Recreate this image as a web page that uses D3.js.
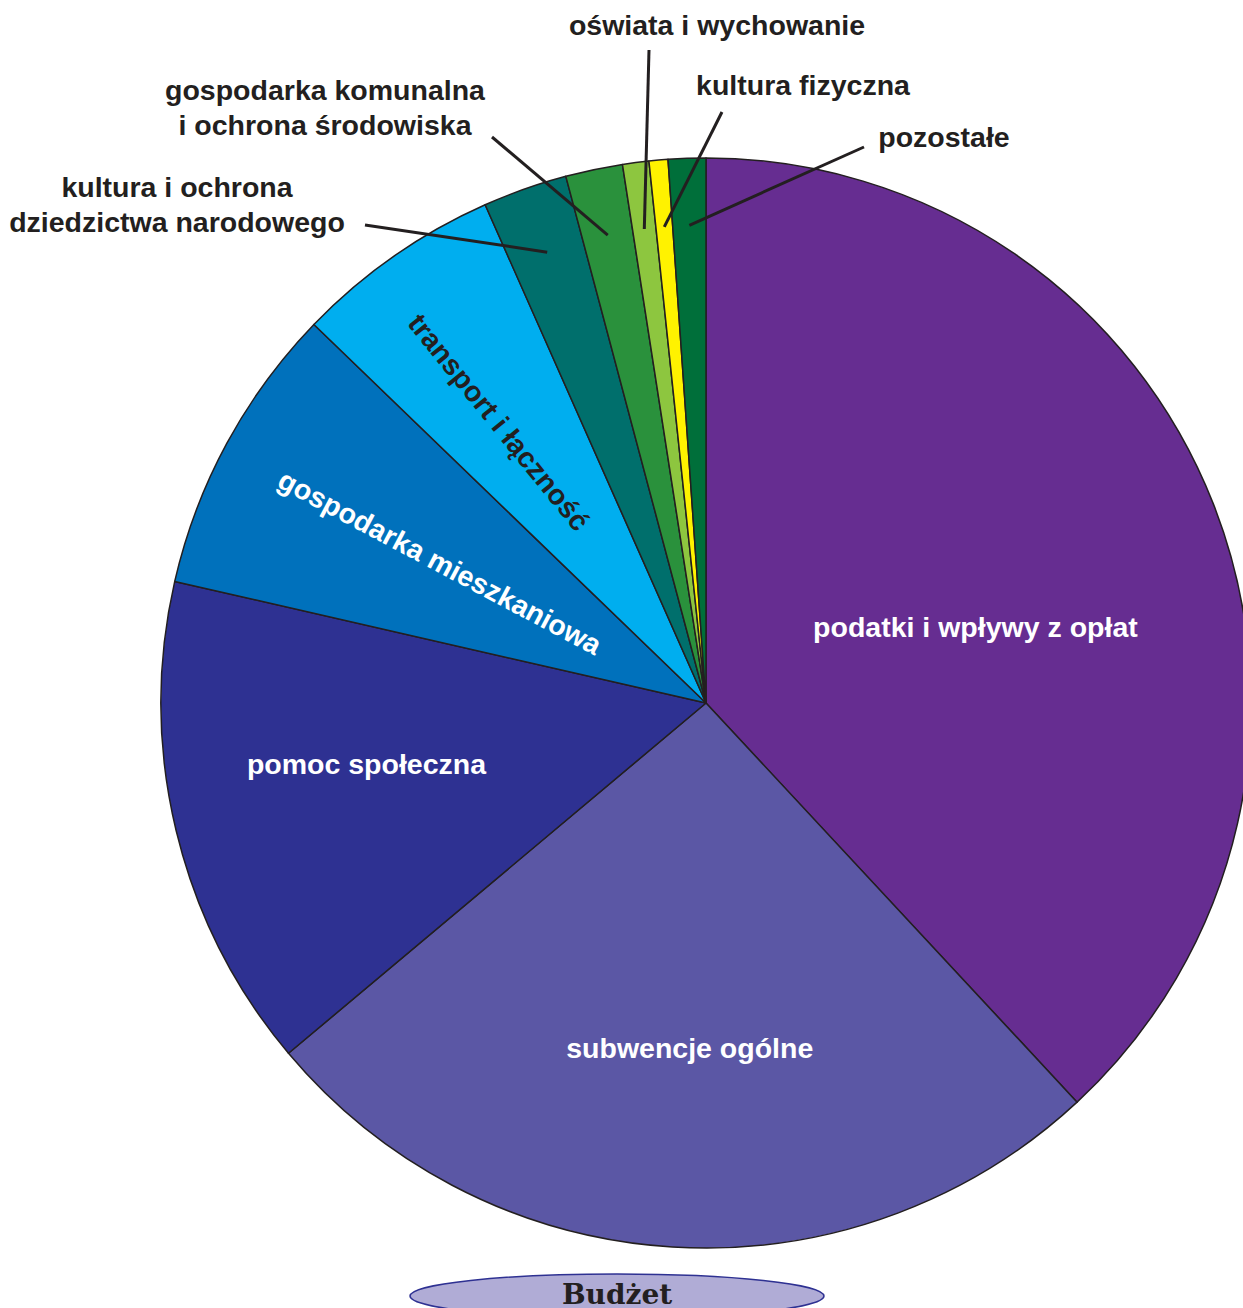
<!DOCTYPE html>
<html>
<head>
<meta charset="utf-8">
<script src="https://cdn.jsdelivr.net/npm/d3@7"></script>
<style>
  body { margin: 0; background: #fff; overflow: hidden; }
  svg { display: block; }
  text { font-family: "Liberation Sans", Arial, sans-serif; font-weight: bold; }
</style>
</head>
<body>
<svg id="canvas" width="1243" height="1308"></svg>
<script>
// budget shares (percent), clockwise from 12 o'clock
let categories = [
  "podatki i wpływy z opłat",
  "subwencje ogólne",
  "pomoc społeczna",
  "gospodarka mieszkaniowa",
  "transport i łączność",
  "kultura i ochrona dziedzictwa narodowego",
  "gospodarka komunalna i ochrona środowiska",
  "oświata i wychowanie",
  "kultura fizyczna",
  "pozostałe"
]
let shares = [38.08, 25.81, 14.69, 8.64, 6.14, 2.5, 1.69, 0.78, 0.56, 1.11]
let title = "Budżet"

let colors = ["#662d91", "#5b57a5", "#2e3192", "#0071bc", "#00aeef",
              "#006f6c", "#2a913c", "#8dc63f", "#fff200", "#006f3a"]

// inside labels: angle (deg), radius, rotation, fill
let insideLabels = {
  0: {ang: 74.2, r: 280, rot: 0, fill: "#fff"},
  1: {ang: 182.7, r: 345, rot: 0, fill: "#fff"},
  2: {ang: 259.8, r: 345, rot: 0, fill: "#fff"},
  3: {ang: 297.9, r: 301, rot: 28, fill: "#fff"},
  4: {ang: 323.6, r: 349, rot: 51, fill: "#231f20"}
}
// outside labels: text lines, text center x, first baseline, leader end
let outsideLabels = {
  5: {lines: ["kultura i ochrona", "dziedzictwa narodowego"], x: 177, y: 197, lx: 365, ly: 225},
  6: {lines: ["gospodarka komunalna", "i ochrona środowiska"], x: 325, y: 100, lx: 492, ly: 137},
  7: {lines: ["oświata i wychowanie"], x: 717, y: 35, lx: 649, ly: 50},
  8: {lines: ["kultura fizyczna"], x: 803, y: 95, lx: 722, ly: 112},
  9: {lines: ["pozostałe"], x: 944, y: 147, lx: 864, ly: 147}
}

let cx = 706, cy = 703, radius = 545
let fontSize = 28.5
let svg = d3.select('#canvas')
let g = svg.append('g').attr('transform', `translate(${cx},${cy})`)

let pie = d3.pie().sort(null).value(d => d)
let arcs = pie(shares)
let arc = d3.arc().innerRadius(0).outerRadius(radius)

g.selectAll('path')
  .data(arcs)
  .enter()
  .append('path')
  .attr('d', arc)
  .attr('fill', (d, i) => colors[i])
  .attr('stroke', '#231f20')
  .attr('stroke-width', 1.5)
  .attr('stroke-linejoin', 'round')

let toRad = a => a * Math.PI / 180

// labels inside slices
arcs.forEach((d, i) => {
  let lab = insideLabels[i]
  if (!lab) return
  let x = lab.r * Math.sin(toRad(lab.ang))
  let y = -lab.r * Math.cos(toRad(lab.ang))
  g.append('text')
    .attr('transform', `translate(${x},${y}) rotate(${lab.rot})`)
    .attr('text-anchor', 'middle')
    .attr('dy', '0.35em')
    .attr('font-size', fontSize)
    .attr('fill', lab.fill)
    .text(categories[i])
})

// leader lines + outside labels
arcs.forEach((d, i) => {
  let lab = outsideLabels[i]
  if (!lab) return
  let mid = (d.startAngle + d.endAngle) / 2
  let r = 478
  svg.append('line')
    .attr('x1', cx + r * Math.sin(mid))
    .attr('y1', cy - r * Math.cos(mid))
    .attr('x2', lab.lx)
    .attr('y2', lab.ly)
    .attr('stroke', '#231f20')
    .attr('stroke-width', 3)
  let t = svg.append('text')
    .attr('text-anchor', 'middle')
    .attr('font-size', fontSize)
    .attr('fill', '#231f20')
  lab.lines.forEach((line, k) => {
    t.append('tspan').attr('x', lab.x).attr('y', lab.y + k * 35).text(line)
  })
})

// title badge
svg.append('ellipse')
  .attr('cx', 617).attr('cy', 1296)
  .attr('rx', 207).attr('ry', 22)
  .attr('fill', '#b0acd6')
  .attr('stroke', '#2e3192')
  .attr('stroke-width', 1.5)
svg.append('text')
  .attr('x', 617).attr('y', 1304)
  .attr('text-anchor', 'middle')
  .attr('font-size', 28)
  .attr('fill', '#231f20')
  .style('font-family', '"DejaVu Serif", "Liberation Serif", serif')
  .text(title)
</script>
</body>
</html>
